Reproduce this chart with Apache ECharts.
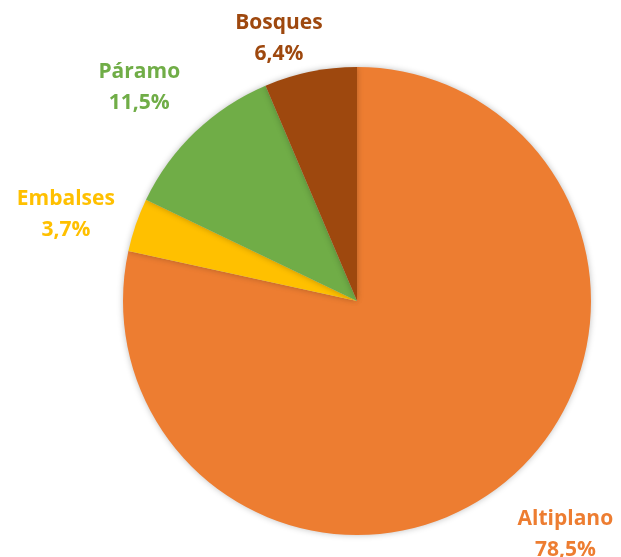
<!DOCTYPE html>
<html>
<head>
<meta charset="utf-8">
<script src="https://cdn.jsdelivr.net/npm/echarts@6/dist/echarts.min.js"></script>
<style>
  html, body { margin: 0; padding: 0; background: #fff; }
  #chart { width: 621px; height: 557px; }
</style>
</head>
<body>
<div id="chart"></div>
<script>
var zonas = ['Altiplano', 'Embalses', 'Páramo', 'Bosques'];
var porcentajes = [78.5, 3.7, 11.5, 6.4];
var colores = ['#ED7D31', '#FFC000', '#70AD47', '#9E480E'];

var cx = 357, cy = 301, radio = 234;
var total = porcentajes.reduce(function (a, b) { return a + b; }, 0);
var acumulado = [];
porcentajes.reduce(function (a, v, i) { acumulado[i] = a; return a + v; }, 0);

// cuánto se desplaza la caja de la etiqueta hacia fuera según la dirección
function factor(u) {
  var f = Math.max(0, Math.min(1, (Math.abs(u) - 0.25) / 0.35));
  return u < 0 ? -f : f;
}

var grafico = echarts.init(document.getElementById('chart'));
var opcion = {
  animation: false,
  color: colores,
  series: [
    {
      type: 'pie',
      center: [cx, cy],
      radius: radio,
      startAngle: 90,
      clockwise: true,
      avoidLabelOverlap: false,
      data: zonas.map(function (z, i) {
        return { name: z, value: porcentajes[i] };
      }),
      itemStyle: {
        borderWidth: 0,
        shadowBlur: 6,
        shadowColor: 'rgba(0,0,0,0.25)'
      },
      label: {
        show: true,
        position: 'outside',
        fontFamily: 'Open Sans',
        fontWeight: 'bold',
        fontSize: 21,
        lineHeight: 31,
        color: 'inherit',
        formatter: function (p) {
          return p.name + '\n' + p.value.toFixed(1).replace('.', ',') + '%';
        }
      },
      labelLine: { show: false },
      // etiqueta pegada por su esquina al rayo del ángulo medio (como Excel)
      labelLayout: function (p) {
        var i = p.dataIndex;
        var medio = (acumulado[i] + porcentajes[i] / 2) / total * Math.PI * 2;
        var ux = Math.sin(medio), uy = -Math.cos(medio);
        var w = p.labelRect.width / 2, h = p.labelRect.height / 2;
        var d = radio + 22;
        var x = cx + ux * d + factor(ux) * w;
        var y = cy + uy * d + factor(uy) * h + 3;
        if (y - h < 8) {
          var dy = 8 + h - y;
          y += dy;
          x += (ux < 0 ? -1 : 1) * dy * 1.6;
        }
        return { x: x, y: y, align: 'center', verticalAlign: 'middle' };
      }
    }
  ]
};
grafico.setOption(opcion);
</script>
</body>
</html>
